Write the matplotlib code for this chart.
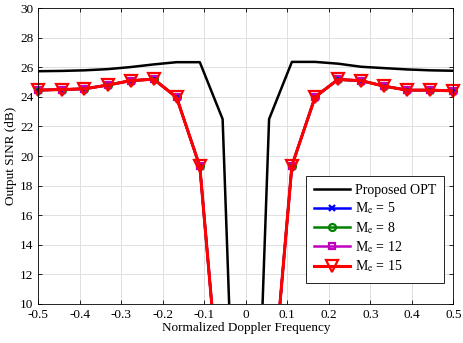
import numpy as np
import matplotlib
matplotlib.use("Agg")
import matplotlib.pyplot as plt
from matplotlib.lines import Line2D

plt.rcParams['font.family'] = ['Liberation Serif', 'DejaVu Serif']
plt.rcParams['mathtext.fontset'] = 'stix'

# normalized Doppler frequency grid
fd = [-0.5, -0.444, -0.389, -0.333, -0.278, -0.222, -0.167, -0.111, -0.056, 0.0,
      0.056, 0.111, 0.167, 0.222, 0.278, 0.333, 0.389, 0.444, 0.5]

sinr_opt = [25.74, 25.76, 25.8, 25.88, 26.02, 26.2, 26.35, 26.35, 22.5, -22.0,
            22.5, 26.37, 26.37, 26.25, 26.04, 25.95, 25.86, 25.8, 25.77]
sinr_me5 = [24.46, 24.5, 24.55, 24.8, 25.1, 25.2, 23.97, 19.3, 1.5, -20.0,
            1.5, 19.35, 24.0, 25.18, 25.1, 24.73, 24.46, 24.46, 24.41]
sinr_me8 = [24.46, 24.5, 24.55, 24.8, 25.1, 25.2, 23.97, 19.3, 1.5, -20.0,
            1.5, 19.35, 24.0, 25.18, 25.1, 24.73, 24.46, 24.46, 24.41]
sinr_me12 = [24.46, 24.5, 24.55, 24.8, 25.1, 25.2, 23.97, 19.3, 1.5, -20.0,
             1.5, 19.35, 24.0, 25.18, 25.1, 24.73, 24.46, 24.46, 24.41]
sinr_me15 = [24.46, 24.5, 24.55, 24.8, 25.1, 25.2, 23.97, 19.3, 1.5, -20.0,
             1.5, 19.35, 24.0, 25.18, 25.1, 24.73, 24.46, 24.46, 24.41]

fig = plt.figure(figsize=(4.63, 3.43), dpi=100)
ax = fig.add_axes([0.083, 0.114, 0.896, 0.862])

ax.plot(fd, sinr_opt, color='black', lw=1.8)
handles = [Line2D([], [], color='black', lw=1.8, label='Proposed OPT')]

series = [
    (sinr_me5, 'blue', 'x', 5, 1.8, r'M$_{\mathrm{e}}$ = 5'),
    (sinr_me8, 'green', 'o', 5, 1.8, r'M$_{\mathrm{e}}$ = 8'),
    (sinr_me12, 'm', 's', 5, 1.8, r'M$_{\mathrm{e}}$ = 12'),
    (sinr_me15, 'red', 'v', 9, 2.2, r'M$_{\mathrm{e}}$ = 15'),
]
for vals, col, mk, ms, lw, lab in series:
    ax.plot(fd, vals, color=col, lw=lw)
    # markers drawn unclipped (like MATLAB) for points inside the y range
    y = np.ma.masked_less(np.array(vals), 10)
    ax.plot(fd, y, ls='none', marker=mk, ms=ms, mfc='none', mew=1.6,
            color=col, clip_on=False)
    handles.append(Line2D([], [], color=col, lw=lw, marker=mk, ms=ms,
                          mfc='none', mew=1.6, label=lab))

ax.set_xlim(-0.5, 0.5)
ax.set_ylim(10, 30)
ax.set_xticks(np.arange(-0.5, 0.51, 0.1))
ax.set_xticklabels(['-0.5', '-0.4', '-0.3', '-0.2', '-0.1', '0',
                    '0.1', '0.2', '0.3', '0.4', '0.5'])
ax.set_yticks(np.arange(10, 31, 2))
ax.tick_params(direction='in', top=True, right=True, labelsize=9.5, length=3, width=0.6)
ax.grid(True, color='#e0e0e0', lw=0.7)
for s in ax.spines.values():
    s.set_linewidth(0.6)

ax.set_xlabel('Normalized Doppler Frequency', fontsize=9.5, labelpad=1)
ax.set_ylabel('Output SINR (dB)', fontsize=9.5, labelpad=2)

leg = ax.legend(handles=handles, loc='lower right', bbox_to_anchor=(0.978, 0.072),
                fontsize=10, fancybox=False, framealpha=1, edgecolor='black',
                handlelength=2.6, borderpad=0.6, labelspacing=0.25, handletextpad=0.3,
                borderaxespad=0)
leg.get_frame().set_linewidth(0.6)

fig.savefig('out.png', dpi=100)
